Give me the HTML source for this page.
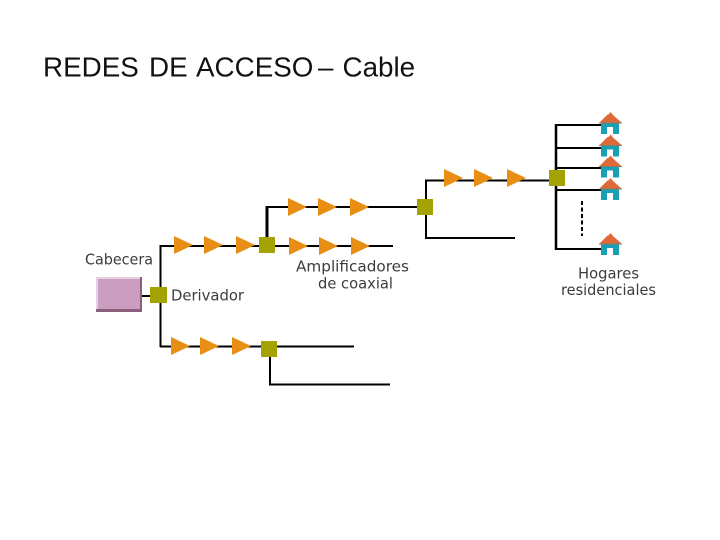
<!DOCTYPE html>
<html><head><meta charset="utf-8"><style>
html,body{margin:0;padding:0;background:#fff}
svg{display:block}
text{font-family:"Liberation Sans",sans-serif}
text.l{font-family:"DejaVu Sans",sans-serif;font-size:15.5px;fill:#3c3c3c}
</style></head><body>
<svg width="720" height="540" viewBox="0 0 720 540" xmlns="http://www.w3.org/2000/svg">
<defs>
<polygon id="t" points="0,0 19,9 0,18" fill="#e88e14"/>
<g id="h">
<rect x="2" y="11" width="18" height="11" fill="#1a9fb5"/>
<rect x="8" y="15" width="6" height="7" fill="#fff"/>
<polygon points="0,11 8,3 10,2 11.500,0 14,3 23,11" fill="#e0693a"/>
<rect x="0" y="10.500" width="23" height="1" fill="#7f7f6c"/>
</g>
</defs>
<g font-size="27.800" fill="#111">
<text x="43" y="76.500">REDES</text>
<text x="149" y="76.500">DE</text>
<text x="196" y="76.500">ACCESO</text>
<text x="318" y="76.500">–</text>
<text x="342.500" y="76.500">Cable</text>
</g>

<g fill="none" stroke="#000" stroke-width="2">
<path d="M142 296H160M160.500 347V246H393M160 346.500H354M270 349V384.500H390"/>
<path d="M266 207H425M426 207V238H515M426 207V180.500H557"/>
<path stroke-width="3" d="M267 238V206"/>
<path stroke-width="2.500" d="M556 186V124M556 186V250"/>
<path d="M555 125H602M556 148H602M556 168H602M556 190H602M555 249H602"/>
<path stroke-dasharray="4 2.500" d="M582 201V236"/>
</g>

<rect x="96" y="277" width="46" height="35" fill="#8a5f7c"/>
<rect x="96" y="277" width="44" height="32" fill="#e6cfe0"/>
<rect x="98" y="279" width="42" height="30" fill="#cb9dc1"/>

<g fill="#a3a305">
<rect x="150" y="287" width="17" height="16"/>
<rect x="259" y="237" width="16" height="16"/>
<rect x="261" y="341" width="16" height="16"/>
<rect x="417" y="199" width="16" height="16"/>
<rect x="549" y="170" width="16" height="16"/>
</g>

<use href="#t" x="174" y="236"/><use href="#t" x="204" y="236"/><use href="#t" x="236" y="236"/>
<use href="#t" x="289" y="237"/><use href="#t" x="319" y="237"/><use href="#t" x="351" y="237"/>
<use href="#t" x="288" y="198"/><use href="#t" x="318" y="198"/><use href="#t" x="350" y="198"/>
<use href="#t" x="171" y="337"/><use href="#t" x="200" y="337"/><use href="#t" x="232" y="337"/>
<use href="#t" x="444" y="169"/><use href="#t" x="474" y="169"/><use href="#t" x="507" y="169"/>

<use href="#h" x="599" y="112"/><use href="#h" x="599" y="134.500"/><use href="#h" x="599" y="155.500"/><use href="#h" x="599" y="178"/><use href="#h" x="599" y="233"/>

<text class="l" x="85" y="264.500" textLength="68" lengthAdjust="spacingAndGlyphs">Cabecera</text>
<text class="l" x="171" y="300.500" textLength="73" lengthAdjust="spacingAndGlyphs">Derivador</text>
<text class="l" x="296" y="271.500" textLength="113" lengthAdjust="spacingAndGlyphs">Amplificadores</text>
<text class="l" x="318" y="288.500" textLength="75" lengthAdjust="spacingAndGlyphs">de coaxial</text>
<text class="l" x="578" y="278.500" textLength="61" lengthAdjust="spacingAndGlyphs">Hogares</text>
<text class="l" x="561" y="295" textLength="95" lengthAdjust="spacingAndGlyphs">residenciales</text>
</svg>
</body></html>
